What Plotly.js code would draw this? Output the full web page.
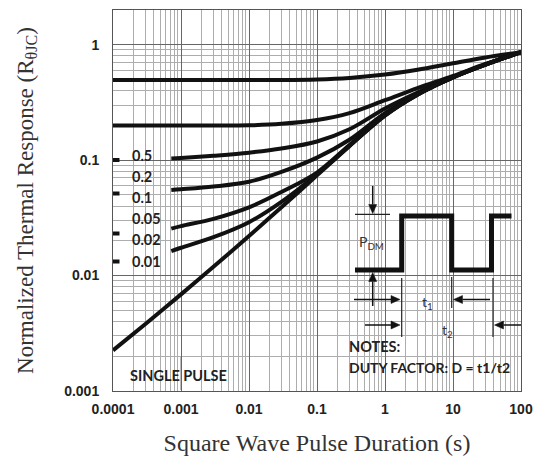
<!DOCTYPE html>
<html>
<head>
<meta charset="utf-8">
<script src="https://cdn.plot.ly/plotly-3.0.1.min.js"></script>
<style>html,body{margin:0;padding:0;background:#fff;}#chart{width:534px;height:457px;}</style>
</head>
<body>
<div id="chart"></div>
<script>
// ---- data ----
const singlePulseDuration = [1e-4, 3e-4, 1e-3, 3e-3, 0.01, 0.03, 0.1, 0.3, 1, 3, 10, 30, 100];
const singlePulseResponse = [0.00225, 0.00381, 0.00687, 0.0119, 0.022, 0.039, 0.0738, 0.132, 0.243, 0.368, 0.52, 0.67, 0.86];

const flatDuration = [1e-4, 3e-4, 1e-3, 3e-3, 0.01, 0.03, 0.1, 0.3, 1, 3, 10, 30, 100];
const duty05Response = [0.495, 0.495, 0.495, 0.495, 0.495, 0.495, 0.5, 0.515, 0.55, 0.605, 0.69, 0.775, 0.86];
const duty02Response = [0.199, 0.199, 0.199, 0.199, 0.2, 0.206, 0.222, 0.255, 0.33, 0.42, 0.535, 0.68, 0.86];

const dutyDuration = [7.2e-4, 1e-3, 3e-3, 0.01, 0.03, 0.1, 0.3, 1, 3, 10, 30, 100];
const duty01Response = [0.103, 0.104, 0.109, 0.116, 0.126, 0.145, 0.185, 0.28, 0.385, 0.525, 0.675, 0.86];
const duty005Response = [0.055, 0.0558, 0.059, 0.065, 0.079, 0.105, 0.15, 0.255, 0.372, 0.52, 0.67, 0.86];
const duty002Response = [0.0255, 0.0268, 0.031, 0.039, 0.053, 0.078, 0.135, 0.245, 0.37, 0.52, 0.67, 0.86];
const duty001Response = [0.0163, 0.0174, 0.0215, 0.029, 0.0435, 0.0755, 0.133, 0.244, 0.369, 0.52, 0.67, 0.86];

const dutyLabels = ["0.5", "0.2", "0.1", "0.05", "0.02", "0.01"];
const xTickVals = [1e-4, 1e-3, 1e-2, 0.1, 1, 10, 100];
const xTickText = ["0.0001", "0.001", "0.01", "0.1", "1", "10", "100"];
const yTickVals = [0.001, 0.01, 0.1, 1];
const yTickText = ["0.001", "0.01", "0.1", "1"];

// ---- layout helpers (pixel -> paper) ----
const L = 113, T = 10, W = 408, H = 381;
const px = v => (v - L) / W;
const py = v => (T + H - v) / H;

const lineStyle = {color: '#111', width: 4, shape: 'spline', smoothing: 1};
function series(x, y, name) {
  return {x: x, y: y, name: name, type: 'scatter', mode: 'lines', line: lineStyle, hoverinfo: 'skip'};
}
const traces = [
  series(flatDuration, duty05Response, 'D=0.5'),
  series(flatDuration, duty02Response, 'D=0.2'),
  series(dutyDuration, duty01Response, 'D=0.1'),
  series(dutyDuration, duty005Response, 'D=0.05'),
  series(dutyDuration, duty002Response, 'D=0.02'),
  series(dutyDuration, duty001Response, 'D=0.01'),
  series(singlePulseDuration, singlePulseResponse, 'Single pulse')
];

const white = {type: 'rect', xref: 'paper', yref: 'paper', fillcolor: '#fff', line: {width: 0}, layer: 'between'};
const shapes = [
  Object.assign({}, white, {x0: px(120), x1: px(171), y0: py(271), y1: py(147)}),
  Object.assign({}, white, {x0: px(114), x1: px(232), y0: py(390), y1: py(357)}),
  Object.assign({}, white, {x0: px(341), x1: px(520.5), y0: py(390.5), y1: py(185)}),
  {type: 'line', xref: 'paper', yref: 'paper', x0: 1/6, x1: 1/6, y0: py(390), y1: py(357), line: {color: '#777', width: 1}, layer: 'between'}
];
[160, 193.5, 233.5, 261.5].forEach(v => shapes.push({type: 'line', xref: 'paper', yref: 'paper', x0: px(113), x1: px(119.5), y0: py(v), y1: py(v), line: {color: '#111', width: 4}}));
// square wave
const sq = [[355,270],[401.7,270],[401.7,216],[451.7,216],[451.7,270],[491.5,270],[491.5,216],[511.5,216]];
shapes.push({type: 'path', xref: 'paper', yref: 'paper', path: 'M' + sq.map(p => px(p[0]) + ',' + py(p[1])).join(' L'), line: {color: '#111', width: 5}});
// thin construction lines
const thin = [[355,214.3,390,214.3],[401.7,278,401.7,337],[451.7,277,451.7,308],[493,278,493,337]];
thin.forEach(s => shapes.push({type: 'line', xref: 'paper', yref: 'paper', x0: px(s[0]), y0: py(s[1]), x1: px(s[2]), y1: py(s[3]), line: {color: '#222', width: 1.2}}));
// arrows drawn as a shaft plus a filled head: [tailX, tailY, headX, headY]
const arrows = [[372.7,186,372.7,213.5],[372.7,306,372.7,272.5],[354,299.5,400,299.5],[490,299.5,453.5,299.5],[365,325,400,325],[521,325,494.5,325]];
arrows.forEach(a => {
  const dx = a[2] - a[0], dy = a[3] - a[1], len = Math.hypot(dx, dy), ux = dx / len, uy = dy / len;
  const hl = 9, hw = 4;
  const bx = a[2] - ux * hl, by = a[3] - uy * hl;
  shapes.push({type: 'line', xref: 'paper', yref: 'paper', x0: px(a[0]), y0: py(a[1]), x1: px(bx), y1: py(by), line: {color: '#111', width: 1.5}});
  const p1 = [bx - uy * hw, by + ux * hw], p2 = [bx + uy * hw, by - ux * hw];
  shapes.push({type: 'path', xref: 'paper', yref: 'paper', fillcolor: '#111', line: {color: '#111', width: 0.5},
    path: 'M' + px(a[2]) + ',' + py(a[3]) + ' L' + px(p1[0]) + ',' + py(p1[1]) + ' L' + px(p2[0]) + ',' + py(p2[1]) + ' Z'});
});

const labelFont = {family: 'Lato, "Open Sans", sans-serif', size: 14.5, color: '#222', weight: 'bold'};
const annotations = [];
const labelY = [155.7, 176.5, 197.5, 218.5, 239.5, 261];
dutyLabels.forEach((t, i) => annotations.push({text: t, xref: 'paper', yref: 'paper', x: px(130), y: py(labelY[i]), xanchor: 'left', yanchor: 'middle', showarrow: false, font: labelFont}));
annotations.push({text: 'SINGLE PULSE', xref: 'paper', yref: 'paper', x: px(127.5), y: py(375), xanchor: 'left', yanchor: 'middle', showarrow: false, font: labelFont});
annotations.push({text: 'NOTES:', xref: 'paper', yref: 'paper', x: px(347), y: py(346.5), xanchor: 'left', yanchor: 'middle', showarrow: false, font: labelFont});
annotations.push({text: 'DUTY FACTOR: D = t1/t2', xref: 'paper', yref: 'paper', x: px(347), y: py(367), xanchor: 'left', yanchor: 'middle', showarrow: false, font: Object.assign({}, labelFont, {size: 14})});
const diagFont = {family: 'Lato, "Open Sans", sans-serif', size: 14, color: '#333'};
annotations.push({text: 'P<sub>DM</sub>', xref: 'paper', yref: 'paper', x: px(371), y: py(242), xanchor: 'center', yanchor: 'middle', showarrow: false, font: diagFont});
annotations.push({text: 't<sub>1</sub>', xref: 'paper', yref: 'paper', x: px(427), y: py(302), xanchor: 'center', yanchor: 'middle', showarrow: false, font: diagFont});
annotations.push({text: 't<sub>2</sub>', xref: 'paper', yref: 'paper', x: px(447), y: py(330), xanchor: 'center', yanchor: 'middle', showarrow: false, font: diagFont});

const tickFont = {family: '"Liberation Sans", Arial, sans-serif', size: 14, color: '#222', weight: 'bold'};
const layout = {
  width: 534, height: 457,
  margin: {l: L, r: 534 - L - W, t: T, b: 457 - T - H},
  paper_bgcolor: '#fff', plot_bgcolor: '#fff',
  showlegend: false,
  xaxis: {
    type: 'log', range: [-4, 2], tickmode: 'array', tickvals: xTickVals, ticktext: xTickText,
    ticks: '', ticklabelstandoff: 5, tickfont: tickFont,
    showgrid: true, gridcolor: '#666', gridwidth: 1,
    minor: {dtick: 'D1', showgrid: true, gridcolor: '#adadad', gridwidth: 1, ticks: ''},
    showline: true, mirror: true, linecolor: '#555', linewidth: 1, zeroline: false,
    title: {text: 'Square Wave Pulse Duration (s)', font: {family: '"Liberation Serif", "Times New Roman", serif', size: 24, color: '#333'}, standoff: 18}
  },
  yaxis: {
    type: 'log', range: [-3, 0.3], tickmode: 'array', tickvals: yTickVals, ticktext: yTickText,
    ticks: '', ticklabelstandoff: 10, tickfont: tickFont,
    showgrid: true, gridcolor: '#666', gridwidth: 1,
    minor: {dtick: 'D1', showgrid: true, gridcolor: '#adadad', gridwidth: 1, ticks: ''},
    showline: true, mirror: true, linecolor: '#555', linewidth: 1, zeroline: false,
    title: {text: 'Normalized Thermal Response (R<sub>θJC</sub>)', font: {family: '"Liberation Serif", "Times New Roman", serif', size: 23, color: '#333'}, standoff: 24}
  },
  shapes: shapes,
  annotations: annotations
};
Plotly.newPlot('chart', traces, layout, {staticPlot: true, displayModeBar: false});
</script>
</body>
</html>
